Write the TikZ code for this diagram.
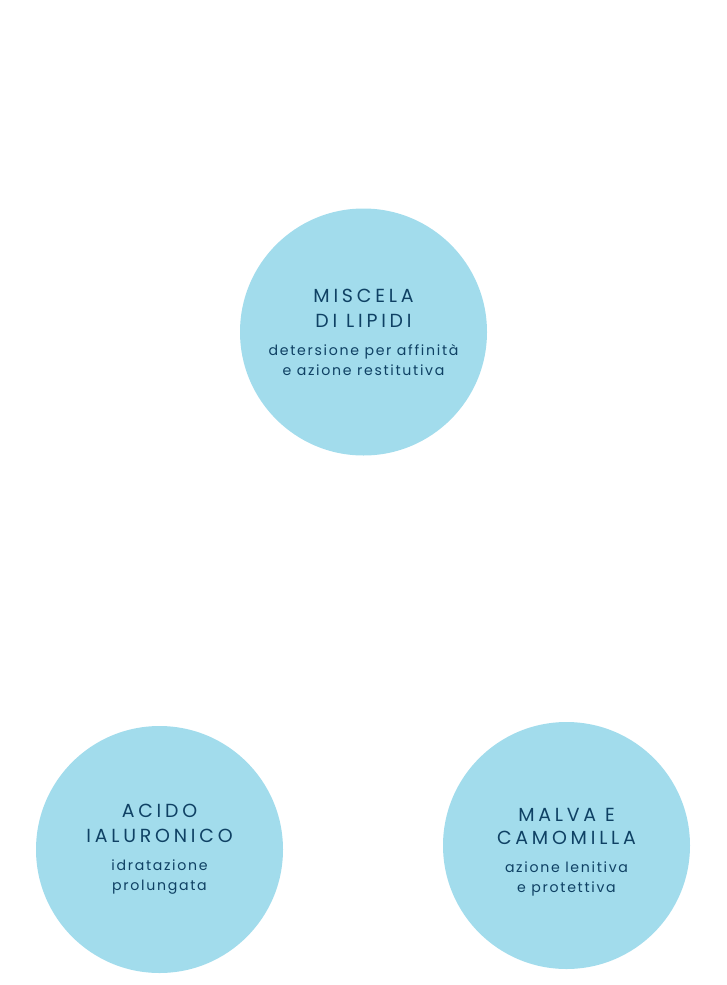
\documentclass[tikz,border=0pt]{standalone}
\usepackage{fontspec}
\setmainfont{Poppins}
\newfontfamily\headfont[LetterSpace=20]{Poppins}
\newfontfamily\bodyfont[LetterSpace=12]{Poppins}
\usetikzlibrary{positioning}
\definecolor{bubblefill}{HTML}{A2DCEC}
\definecolor{bubbleink}{HTML}{0F4164}
\newcommand{\hd}[1]{{\headfont\fontsize{14.2}{15}\selectfont #1}}
\newcommand{\bd}[1]{{\bodyfont\fontsize{10.6}{15}\selectfont #1}}

\begin{document}
\begin{tikzpicture}[
  x=0.75pt, y=-0.75pt,
  bubble/.style={circle, fill=bubblefill, minimum size=185.25pt, inner sep=0pt,
    align=center, text=bubbleink, font=\fontsize{10}{15}\selectfont},
]
\useasboundingbox (0,0) rectangle (727,985);
\node[bubble] (lipidi) at (363.5,332) {\hd{MISCELA}\\[3.75pt]\hd{DI LIPIDI}\\[6pt]\bd{detersione per affinità}\\\bd{e azione restitutiva}};
\node[bubble] (acido) at (159.5,849.5) {\hd{ACIDO}\\[3.75pt]\hd{IALURONICO}\\[6pt]\bd{idratazione}\\\bd{prolungata}};
\node[bubble] (malva) at (566.5,845.5) {\hd{\rule{0pt}{20pt}MALVA E}\\[2.5pt]\hd{CAMOMILLA}\\[6pt]\bd{azione lenitiva}\\\bd{e protettiva}};
\end{tikzpicture}
\end{document}
